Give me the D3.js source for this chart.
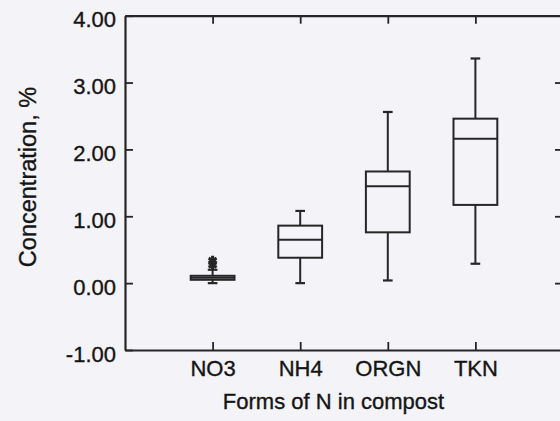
<!DOCTYPE html>
<html>
<head>
<meta charset="utf-8">
<script src="https://cdn.jsdelivr.net/npm/d3@7/dist/d3.min.js"></script>
<style>
  html, body { margin: 0; padding: 0; background: #f3f3f8; }
  svg { display: block; }
  text { font-family: "Liberation Sans", Arial, sans-serif; fill: #151515; stroke: #151515; stroke-width: 0.35px; }
</style>
</head>
<body>
<svg id="chart" width="560" height="421"></svg>
<script>
// ---- data ----
const categories  = ["NO3", "NH4", "ORGN", "TKN"];
const whiskerLow  = [0.00, 0.00, 0.04, 0.29];
const q1          = [0.05, 0.38, 0.76, 1.17];
const median      = [0.08, 0.65, 1.45, 2.16];
const q3          = [0.11, 0.86, 1.67, 2.46];
const whiskerHigh = [0.20, 1.08, 2.56, 3.36];
const outliers    = [[0.27, 0.34], [], [], []];
const yTicks      = [-1, 0, 1, 2, 3, 4];
const yTitle = "Concentration, %";
const xTitle = "Forms of N in compost";

// ---- layout ----
const svg = d3.select("#chart");
const mLeft = 125, mRight = 563, mTop = 15.7, mBottom = 350;
const x = d3.scaleLinear().domain([0, categories.length + 1]).range([mLeft, mRight]);
const y = d3.scaleLinear().domain([-1, 4]).range([mBottom, mTop]);
const ink = "#262626";
const boxHalf = 0.25;   // in category units
const capHalf = 0.055;
const fmtY = d => d.toFixed(2);   // plain hyphen for negatives

// axes (frame with inward ticks)
const gL = svg.append("g").attr("transform", `translate(${mLeft},0)`)
  .call(d3.axisLeft(y).tickValues(yTicks).tickFormat(fmtY)
        .tickSizeInner(-8).tickSizeOuter(0).tickPadding(9));
gL.selectAll("text").attr("dy", "0.5em").style("font-size", "22px");

const gR = svg.append("g").attr("transform", `translate(${mRight},0)`)
  .call(d3.axisRight(y).tickValues(yTicks.slice(1, -1)).tickFormat("")
        .tickSizeInner(-8).tickSizeOuter(0));

const catVals = categories.map((c, i) => i + 1);
const gB = svg.append("g").attr("transform", `translate(0,${mBottom})`)
  .call(d3.axisBottom(x).tickValues(catVals).tickFormat(d => categories[d - 1])
        .tickSizeInner(-8).tickSizeOuter(0).tickPadding(10));
gB.selectAll("text").style("font-size", "22px");

const gT = svg.append("g").attr("transform", `translate(0,${mTop})`)
  .call(d3.axisTop(x).tickValues(catVals).tickFormat("")
        .tickSizeInner(-8).tickSizeOuter(0));

[gL, gR, gB, gT].forEach(g => {
  g.select(".domain").attr("stroke", ink).attr("stroke-width", 2.2);
  g.selectAll(".tick line").attr("stroke", ink).attr("stroke-width", 1.8);
});

// boxes
const plot = svg.append("g").attr("fill", "none").attr("stroke", ink).attr("stroke-width", 2);
categories.forEach((c, i) => {
  const cx = x(i + 1);
  const g = plot.append("g");
  // whiskers
  g.append("line").attr("x1", cx).attr("x2", cx).attr("y1", y(q3[i])).attr("y2", y(whiskerHigh[i]));
  g.append("line").attr("x1", cx).attr("x2", cx).attr("y1", y(q1[i])).attr("y2", y(whiskerLow[i]));
  // caps
  [whiskerHigh[i], whiskerLow[i]].forEach(v => {
    g.append("line").attr("x1", x(i + 1 - capHalf)).attr("x2", x(i + 1 + capHalf))
      .attr("y1", y(v)).attr("y2", y(v)).attr("stroke-width", 2.2);
  });
  // box
  g.append("rect")
    .attr("x", x(i + 1 - boxHalf)).attr("width", x(i + 1 + boxHalf) - x(i + 1 - boxHalf))
    .attr("y", y(q3[i])).attr("height", y(q1[i]) - y(q3[i]))
    .attr("fill", "none");
  // median
  g.append("line").attr("x1", x(i + 1 - boxHalf)).attr("x2", x(i + 1 + boxHalf))
    .attr("y1", y(median[i])).attr("y2", y(median[i]));
  // outliers
  outliers[i].forEach(v => {
    g.append("path")
      .attr("d", d3.symbol().type(d3.symbolAsterisk).size(60)())
      .attr("transform", `translate(${cx},${y(v)})`)
      .attr("stroke-width", 3);
  });
});

// titles
svg.append("text")
  .attr("transform", "translate(36,177) rotate(-90)")
  .attr("text-anchor", "middle")
  .style("font-size", "23.5px")
  .text(yTitle);

svg.append("text")
  .attr("x", 333.5).attr("y", 409)
  .attr("text-anchor", "middle")
  .style("font-size", "22px")
  .text(xTitle);
</script>
</body>
</html>
